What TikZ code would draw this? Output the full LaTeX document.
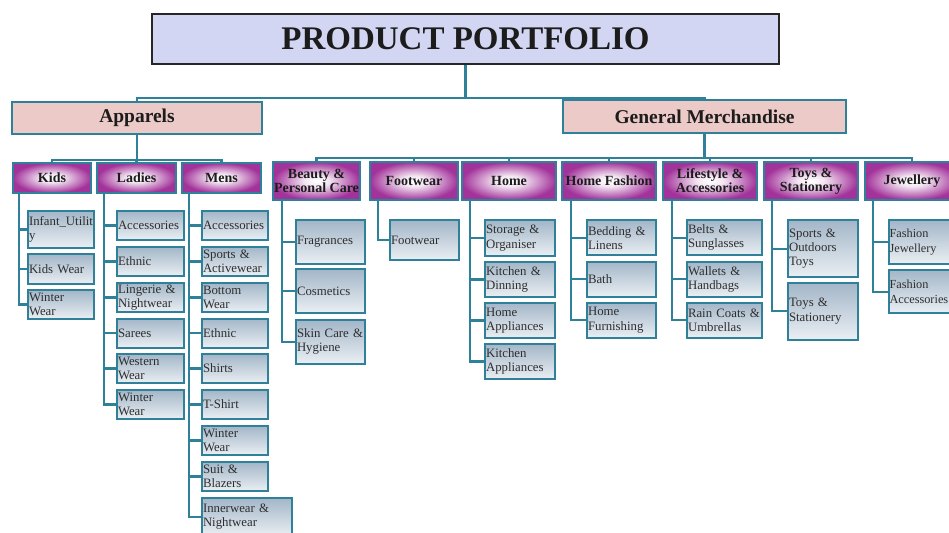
\documentclass[tikz,border=0pt]{standalone}
\usepackage{fontspec}
\setmainfont{Liberation Serif}
\definecolor{cLine}{HTML}{2F8099}
\definecolor{cMag}{HTML}{A2339A}
\definecolor{cLeafTop}{HTML}{A3B6C8}
\definecolor{cLeafBot}{HTML}{EAEFF3}
\definecolor{cHead}{HTML}{D2D6F2}
\definecolor{cGrp}{HTML}{EBCAC8}
\definecolor{cInk}{HTML}{1C1C1C}
\pgfdeclareradialshading{catshade}{\pgfpoint{0bp}{0bp}}{color(0bp)=(white); color(7bp)=(cMag!12); color(25bp)=(cMag); color(50bp)=(cMag)}
\tikzset{
  every node/.style={text=cInk},
  headbox/.style={draw=black!85, line width=2pt, fill=cHead, font=\fontsize{33}{36}\selectfont\bfseries},
  grpbox/.style={draw=cLine, line width=2pt, fill=cGrp, font=\fontsize{19.5}{21}\selectfont\bfseries},
  catbox/.style={draw=cLine, line width=2pt, shading=catshade, align=center, inner sep=1pt, font=\fontsize{14}{14}\selectfont\bfseries},
  itembox/.style={draw=cLine, line width=2pt, top color=cLeafTop, bottom color=cLeafBot, anchor=north west, align=left, inner xsep=1pt, inner ysep=0pt, text=black!82, font=\fontsize{12.8}{14.2}\selectfont},
  link/.style={draw=cLine, line width=2.2pt},
}
\begin{document}
\begin{tikzpicture}[x=1pt,y=-1pt]
\clip (0,0) rectangle (949,532);
\fill[white] (0,0) rectangle (949,532);
\coordinate (tbar) at (0,98);
\coordinate (abar) at (0,160);
\coordinate (gbar) at (0,158);

% ---------------- top level
\node[headbox, minimum width=627, minimum height=50] (head) at (465.5,39) {PRODUCT PORTFOLIO};
\node[grpbox, minimum width=250, minimum height=32] (app) at (137,118) {Apparels};
\node[grpbox, minimum width=283, minimum height=33] (gm) at (704.5,116.5) {General Merchandise};
\draw[link] (head.south) -- (head.south |- tbar);
\draw[link] (app.north) |- (tbar -| gm.north) -- (gm.north);

% ---------------- Apparels
\node[catbox, minimum width=78, minimum height=30] (kids) at (52,178) {Kids};
\node[catbox, minimum width=79, minimum height=30] (ladies) at (136.5,178) {Ladies};
\node[catbox, minimum width=79, minimum height=30] (mens) at (221.5,178) {Mens};
\draw[link] (app.south) -- (app.south |- abar);
\draw[link] (kids.north) |- (abar -| mens.north) -- (mens.north);
\draw[link] (ladies.north) -- (ladies.north |- abar);

\foreach \i/\y/\h/\txt in {1/210/37/{Infant\_Utilit\\y}, 2/253/30/Kids Wear, 3/289/29/{Winter\\Wear}}{
  \node[itembox, text width=64, minimum height=\h] (kid\i) at (27,\y) {\txt};
  \draw[link] ([xshift=7]kids.south west) |- (kid\i.west);
}
\foreach \i/\y/\txt in {1/210/Accessories, 2/246/Ethnic, 3/282/{Lingerie \&\\Nightwear}, 4/317.5/Sarees, 5/353/{Western\\Wear}, 6/389/{Winter\\Wear}}{
  \node[itembox, text width=65, minimum height=29] (lad\i) at (116,\y) {\txt};
  \draw[link] ([xshift=8]ladies.south west) |- (lad\i.west);
}
\foreach \i/\y/\txt in {1/210/Accessories, 2/246/{Sports \&\\Activewear}, 3/282/{Bottom\\Wear}, 4/317.5/Ethnic, 5/353/Shirts, 6/389/T-Shirt, 7/425/{Winter\\Wear}, 8/461/{Suit \&\\Blazers}}{
  \node[itembox, text width=64, minimum height=29] (men\i) at (201,\y) {\txt};
  \draw[link] ([xshift=8]mens.south west) |- (men\i.west);
}
\node[itembox, text width=88, minimum height=38] (men9) at (201,497) {Innerwear \&\\Nightwear};
\draw[link] ([xshift=8]mens.south west) |- (men9.west);

% ---------------- General Merchandise
\foreach \n/\x/\w/\txt in {beauty/316.5/87/{Beauty \&\\Personal Care}, foot/414/88/Footwear, home/509/94/Home, hfash/609/94/Home Fashion, life/710/94/{Lifestyle \&\\Accessories}, toys/811/94/{Toys \&\\Stationery}, jewel/912/94/Jewellery}{
  \node[catbox, minimum width=\w, minimum height=38] (\n) at (\x,181) {\txt};
  \draw[link] (\n.north) -- (\n.north |- gbar);
}
\draw[link] (gm.south) -- (gm.south |- gbar);
\draw[link] (beauty.north) |- (gbar -| jewel.north) -- (jewel.north);

\foreach \i/\y/\txt in {1/219.3/Fragrances, 2/268.3/Cosmetics, 3/319/{Skin Care \&\\Hygiene}}{
  \node[itembox, text width=67, minimum height=43.5] (bea\i) at (295,\y) {\txt};
  \draw[link] ([xshift=10]beauty.south west) |- (bea\i.west);
}
\node[itembox, text width=67, minimum height=40] (foo1) at (389,219.3) {Footwear};
\draw[link] ([xshift=9]foot.south west) |- (foo1.west);
\foreach \i/\y/\txt in {1/219.3/{Storage \&\\Organiser}, 2/260.7/{Kitchen \&\\Dinning}, 3/301.7/{Home\\Appliances}, 4/342.7/{Kitchen\\Appliances}}{
  \node[itembox, text width=68, minimum height=35.5] (hom\i) at (484,\y) {\txt};
  \draw[link] ([xshift=9]home.south west) |- (hom\i.west);
}
\foreach \i/\y/\txt in {1/219.3/{Bedding \&\\Linens}, 2/260.7/Bath, 3/301.7/{Home\\Furnishing}}{
  \node[itembox, text width=67, minimum height=35] (hfa\i) at (586,\y) {\txt};
  \draw[link] ([xshift=10]hfash.south west) |- (hfa\i.west);
}
\foreach \i/\y/\txt in {1/219.3/{Belts \&\\Sunglasses}, 2/260.7/{Wallets \&\\Handbags}, 3/301.7/{Rain Coats \&\\Umbrellas}}{
  \node[itembox, text width=73, minimum height=35] (lif\i) at (686,\y) {\txt};
  \draw[link] ([xshift=10]life.south west) |- (lif\i.west);
}
\foreach \i/\y/\txt in {1/219.3/{Sports \&\\Outdoors\\Toys}, 2/281.7/{Toys \&\\Stationery}}{
  \node[itembox, text width=67.5, minimum height=57] (toy\i) at (787,\y) {\txt};
  \draw[link] ([xshift=9]toys.south west) |- (toy\i.west);
}
\foreach \i/\y/\txt in {1/219.3/{Fashion\\Jewellery}, 2/269/{Fashion\\Accessories}}{
  \node[itembox, text width=70, minimum height=43.4, inner xsep=0.5pt, font=\fontsize{12.3}{14.2}\selectfont] (jew\i) at (888,\y) {\txt};
  \draw[link] ([xshift=9]jewel.south west) |- (jew\i.west);
}
\end{tikzpicture}
\end{document}
